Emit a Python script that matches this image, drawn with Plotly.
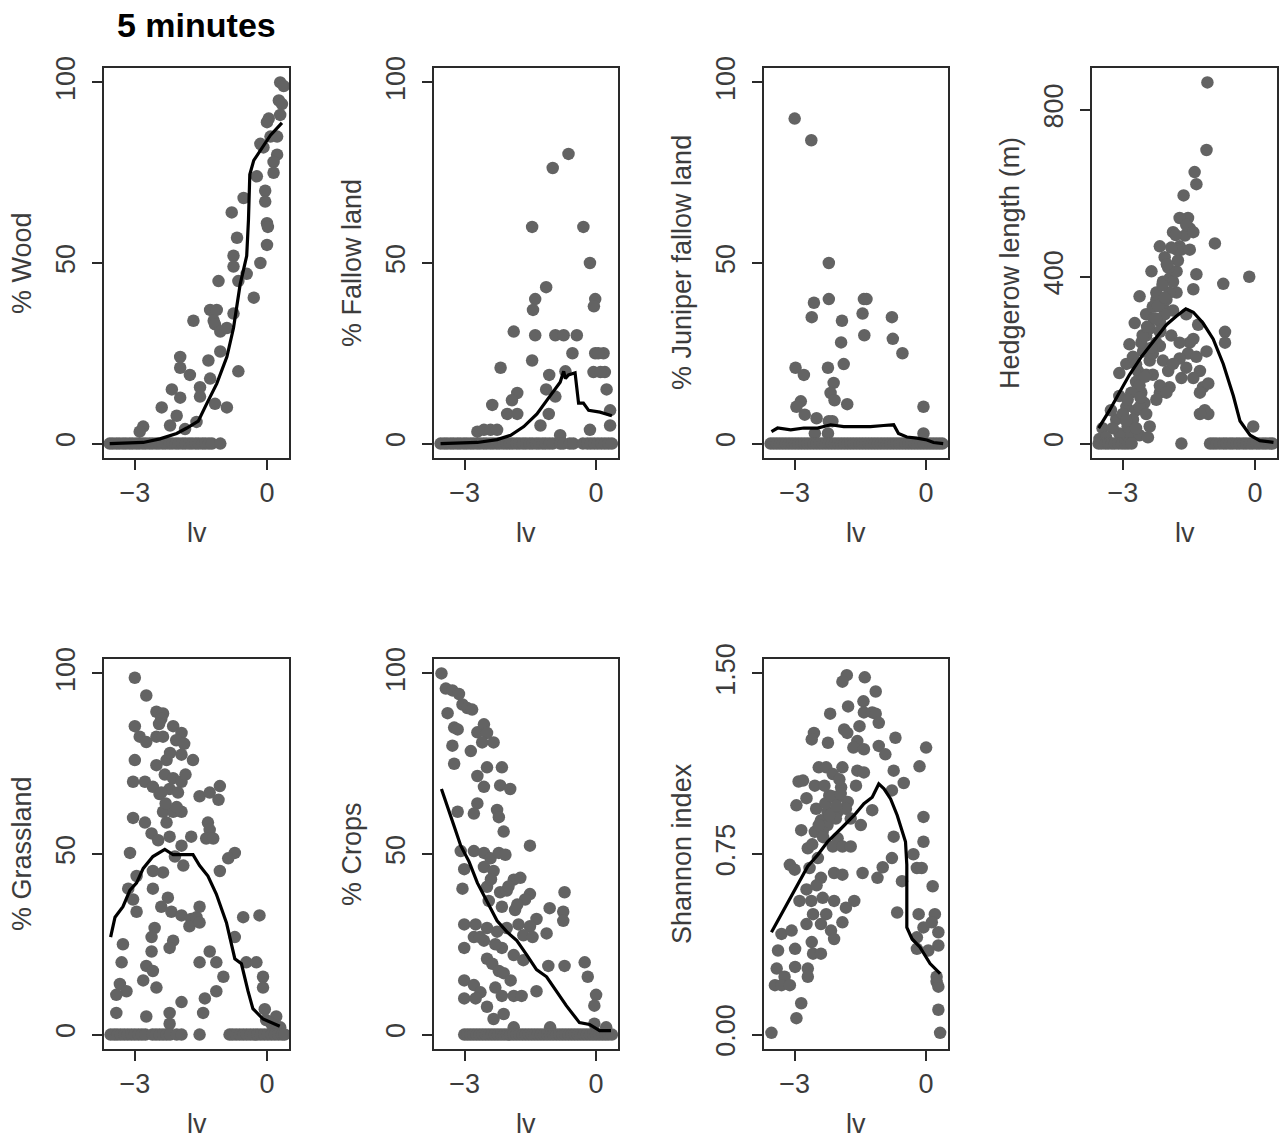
import plotly.graph_objects as go

# ---------------- data ----------------
# Panel 1: % Wood
wood_x = [-2.81, -2.89, 0.30, 0.38, 0.27, 0.34, 0.04, 0.0, 0.30, -0.15, -0.08, 0.08, 0.23, 0.23, 0.15, 0.15,
          -0.23, -0.04, -0.04, -0.53, -0.8, -0.68, 0.0, 0.02, 0.0, -0.76, -0.76, -0.46, -0.15, -1.1, -0.65, -0.3,
          -1.29, -1.14, -1.67, -1.21, -1.18, -1.06, -0.91, -0.76, -1.97, -1.97, -1.33, -1.06, -0.65, -1.75, -1.52,
          -1.29, -2.16, -1.97, -2.39, -2.05, -2.2, -1.18, -0.91, -1.52, -1.6, -1.86]
wood_y = [4.7, 3.3, 100, 99, 95, 94, 90, 89, 91, 83, 82, 85, 85, 80, 78, 75,
          74, 70, 67, 68, 64, 57, 61, 60, 55, 52, 49, 47, 50, 45, 45, 40.4,
          37, 37, 34, 34, 33, 31, 32, 36, 24, 21, 23, 25.5, 20, 19, 15.6,
          18, 15, 12.7, 10, 7.7, 5, 11, 10, 13, 6, 4]
wood_zero_x = [-3.57, -3.5, -3.42, -3.35, -3.27, -3.2, -3.12, -3.05, -2.97, -2.9, -2.82, -2.75, -2.67, -2.6,
               -2.52, -2.45, -2.37, -2.3, -2.22, -2.15, -2.07, -2.0, -1.92, -1.85, -1.77, -1.7, -1.62, -1.55,
               -1.47, -1.4, -1.32, -1.25, -1.06]
wood_line_x = [-3.57, -2.81, -2.43, -2.05, -1.82, -1.56, -1.37, -1.14, -0.91, -0.76, -0.61, -0.46, -0.42,
               -0.39, -0.30, -0.08, 0.08, 0.34]
wood_line_y = [0, 0.3, 1.3, 2.8, 4.3, 6.2, 11, 16.6, 24, 32, 44, 52, 62, 74.5, 78.4, 82.4, 85.4, 88.8]

# Panel 2: % Fallow land
fallow_x = [-0.63, -0.99, -1.46, -0.29, -0.14, -1.14, -1.39, -1.44, -0.02, -0.05, -1.88, -1.39, -0.93, -0.74,
            -0.44, -0.54, -0.02, 0.17, -1.46, -2.18, -0.06, 0.2, -1.07, -0.7, 0.24, -1.8, -1.92, -1.14, -0.93,
            -2.37, -2.03, -1.8, -1.08, 0.32, 0.32, -1.27, -0.14, -2.71, -2.56, -2.41, -2.26, -0.82, 0.1, 0.05]
fallow_y = [80.2, 76.3, 60, 60, 50, 43.3, 40, 37, 40, 38, 31, 30, 30, 30,
            30, 25, 25, 25, 23, 21, 19.8, 19.8, 19, 20, 15, 14, 12, 15, 13,
            10.7, 8.2, 8.2, 8.2, 9.2, 5, 5, 3.8, 3.3, 3.8, 3.8, 3.8, 2.3, 19.8, 25]
fallow_zero_x = [-3.55, -3.47, -3.4, -3.32, -3.25, -3.17, -3.1, -3.02, -2.95, -2.87, -2.8, -2.72, -2.65,
                 -2.57, -2.5, -2.42, -2.35, -2.27, -2.2, -2.12, -2.05, -1.97, -1.9, -1.82, -1.75, -1.67, -1.6,
                 -1.52, -1.45, -1.37, -1.3, -1.22, -1.15, -1.07, -0.99, -0.82, -0.75, -0.6, -0.52, -0.3, -0.2,
                 -0.12, -0.04, 0.04, 0.12, 0.2, 0.28, 0.36]
fallow_line_x = [-3.55, -2.71, -2.26, -1.95, -1.65, -1.35, -1.05, -0.82, -0.74, -0.7, -0.63, -0.48, -0.4,
                 -0.29, -0.17, 0.09, 0.36]
fallow_line_y = [0, 0.3, 1.1, 2.3, 4.7, 8.2, 13.2, 17, 20, 18, 19, 19.6, 11.2, 11.2, 9.2, 8.7, 7.7]

# Panel 3: % Juniper fallow land
juniper_x = [-3.0, -2.62, -2.22, -2.22, -2.56, -2.61, -1.42, -1.36, -1.45, -0.78, -1.92, -1.41, -0.76, -0.54,
             -1.94, -1.88, -2.98, -2.79, -2.24, -2.11, -2.18, -2.09, -1.8, -2.86, -2.96, -2.77, -2.5, -2.22,
             -2.14, -2.54, -2.24, -0.06, -0.06]
juniper_y = [90, 84, 50, 40, 39, 35, 40, 40, 36, 35, 34, 30, 29, 25,
             28, 22, 21, 19, 21, 16.8, 14, 12, 10.9, 11.7, 10.2, 8, 7, 6.2,
             6.2, 2.8, 2.8, 10.2, 2.8]
juniper_zero_x = [-3.55, -3.48, -3.41, -3.34, -3.27, -3.2, -3.13, -3.06, -2.99, -2.92, -2.85, -2.78, -2.71,
                  -2.64, -2.57, -2.5, -2.43, -2.36, -2.29, -2.22, -2.15, -2.08, -2.01, -1.94, -1.87, -1.8,
                  -1.73, -1.66, -1.59, -1.52, -1.45, -1.38, -1.31, -1.24, -1.17, -1.1, -1.03, -0.96, -0.89,
                  -0.82, -0.75, -0.68, -0.61, -0.54, -0.47, -0.4, -0.33, -0.26, -0.19, -0.12, -0.05, 0.02,
                  0.09, 0.16, 0.23, 0.3, 0.37]
juniper_line_x = [-3.53, -3.39, -3.09, -2.79, -2.48, -2.18, -1.88, -1.58, -1.27, -0.97, -0.74, -0.63, -0.44,
                  -0.21, 0.02, 0.17, 0.39]
juniper_line_y = [3.3, 4.3, 3.8, 4.3, 4.3, 5.2, 4.7, 4.7, 4.7, 5.0, 5.2, 2.8, 1.8, 1.5, 1.0, 0.3, 0]

# Panel 4: Hedgerow length (m)
hedge_x = [-1.08, -1.1, -1.37, -1.33, -1.62, -1.52, -1.48, -0.91, -1.33, -0.13, -0.72, -1.71, -1.86, -2.16,
           -2.05, -1.71, -2.35, -1.94, -2.62, -2.24, -2.47, -2.09, -1.78, -2.73, -2.39, -2.16, -1.86, -1.56,
           -1.29, -0.68, -0.68, -1.9, -1.48, -2.85, -2.54, -2.16, -1.1, -1.52, -1.71, -2.92, -2.66, -2.32,
           -1.97, -1.67, -1.25, -3.08, -1.18, -1.06, -2.16, -1.94, -2.51, -3.08, -2.92, -2.7, -2.77, -2.39,
           -3.15, -3.27, -1.14, -1.06, -1.25, -0.04, -3.53, -3.46, -2.85, -3.08, -2.62, -2.89,
           -2.77, -2.7, -2.58, -2.47, -2.39, -2.32, -2.24, -2.16, -2.05, -2.01, -1.94, -1.86, -1.78, -1.75,
           -1.67, -1.59, -1.56, -1.78, -1.97, -2.09, -2.24, -2.32, -2.47, -2.58, -2.62, -2.81, -2.89, -2.62,
           -2.47, -3.0, -2.92, -3.23, -3.38, -2.7, -2.43, -2.09, -1.86, -1.71, -1.4, -1.33, -1.56, -1.4,
           -1.25, -2.16, -2.01, -2.24, -1.4, -1.48, -1.4, -2.3, -2.2, -2.1, -2.0, -1.9, -1.8, -2.55, -2.45,
           -2.35, -2.25, -2.15, -2.05, -2.7, -2.6, -2.5]
hedge_y = [866, 704, 651, 622, 595, 541, 516, 480, 406, 400, 383, 541, 507, 473,
           447, 473, 413, 396, 353, 345, 310, 328, 362, 289, 276, 293, 319, 310,
           285, 268, 242, 259, 242, 238, 221, 234, 221, 216, 204, 191, 174, 165,
           174, 157, 174, 169, 135, 144, 122, 135, 97, 114, 88, 80, 58, 41,
           58, 80, 80, 71, 71, 41, 11, 37, 20, 24, 20, 41,
           208, 148, 122, 165, 199, 216, 242, 268, 310, 345, 362, 388, 413, 439,
           465, 499, 524, 465, 422, 388, 362, 328, 259, 242, 139, 122, 105, 88,
           71, 71, 54, 37, 15, 37, 15, 199, 191, 242, 251, 208, 182, 157,
           122, 139, 122, 105, 507, 465, 370, 300, 330, 380, 430, 470, 500, 260, 280,
           230, 300, 270, 350, 190, 110, 160]
hedge_zero_x = [-3.55, -3.48, -3.4, -3.33, -3.25, -3.18, -3.1, -3.02, -2.95, -2.88, -2.8, -1.67, -1.02, -0.95,
                -0.88, -0.8, -0.72, -0.65, -0.57, -0.5, -0.42, -0.35, -0.27, -0.2, -0.12, -0.05, 0.03, 0.1,
                0.18, 0.25, 0.33, 0.4]
hedge_line_x = [-3.55, -3.3, -3.08, -2.85, -2.58, -2.32, -2.01, -1.78, -1.57, -1.4, -1.18, -0.95, -0.72,
                -0.49, -0.34, -0.11, 0.11, 0.42]
hedge_line_y = [37, 80, 122, 165, 208, 242, 285, 306, 323, 315, 289, 251, 191, 114, 54, 20, 7, 3]

# Panel 5: % Grassland
grass_x = [-3.0, -2.74, -2.51, -2.36, -2.4, -2.13, -1.94, -3.0, -2.89, -2.74, -2.51, -2.36, -2.06, -1.88,
           -1.94, -3.0, -2.51, -2.28, -1.68, -3.04, -2.77, -2.32, -2.13, -1.94, -2.59, -2.44, -2.21, -2.02,
           -1.53, -1.3, -1.07, -1.1, -3.04, -2.77, -2.36, -2.13, -1.94, -2.28, -1.34, -1.3, -2.62, -2.47,
           -2.21, -1.72, -1.38, -1.22, -1.94, -3.11, -2.09, -1.9, -0.73, -0.88, -2.96, -2.59, -2.36, -1.07,
           -3.15, -2.59, -2.25, -3.04, -2.96, -2.4, -2.17, -1.94, -1.72, -1.76, -1.6, -1.53, -1.53, -0.54,
           -0.17, -2.55, -2.62, -2.13, -2.21, -0.73, -3.27, -2.62, -1.3, -3.3, -1.53, -1.15, -0.47, -0.24,
           -2.74, -2.59, -2.81, -0.99, -0.09, -3.34, -3.19, -2.51, -1.15, -1.41, -3.42, -1.94, -0.09, -3.42,
           -2.74, -2.21, -1.45, -2.21, -0.05, 0.21, 0.1, 0.3, -0.02, -2.45, -2.2, -2.3, -2.05, -1.85, -2.4]
grass_y = [98.8, 93.9, 89.4, 88.9, 87.4, 85.4, 83.5, 85.4, 82.5, 81, 82.5, 82.5, 81.5, 80.5,
           77.5, 76, 74.6, 76, 76, 70, 70, 72, 71, 70, 68.6, 66.6, 68, 67,
           66, 67, 68.8, 65, 60, 58.7, 61.7, 61.7, 61.7, 58.7, 58.7, 56.7, 55.7, 53.8,
           54.8, 54.8, 54.3, 54.3, 52.3, 50.3, 49.3, 46.8, 50.3, 48.8, 43.9, 45.3, 44.9, 45.3,
           40.4, 40.4, 37.9, 37.4, 34, 35.4, 34, 33, 32, 30, 32.5, 35.4, 31, 32.5,
           33, 29.5, 27, 26, 24, 27, 25, 23, 23, 20, 20, 20, 20, 20,
           19, 17.6, 15, 16, 16, 14, 12, 13, 12, 10, 11, 9, 13, 6,
           5, 6, 6, 3, 7, 5, 3, 2, 4, 86, 78, 64, 63, 72, 67]
grass_zero_x = [-3.55, -3.47, -3.4, -3.32, -3.24, -3.16, -3.08, -3.0, -2.92, -2.84, -2.76, -2.6, -2.52,
                -2.44, -2.36, -2.28, -2.2, -2.05, -1.94, -1.53, -0.85, -0.78, -0.7, -0.62, -0.54, -0.46,
                -0.38, -0.3, -0.22, -0.14, -0.06, 0.02, 0.1, 0.18, 0.26, 0.34, 0.4]
grass_line_x = [-3.55, -3.45, -3.27, -3.11, -2.96, -2.81, -2.59, -2.32, -2.13, -1.9, -1.68, -1.53, -1.34,
                -1.15, -0.92, -0.73, -0.58, -0.43, -0.32, -0.09, 0.29]
grass_line_y = [27, 32.5, 35.4, 40, 42, 46, 49.3, 51.3, 49.8, 49.8, 49.8, 46.8, 43.9, 38.9, 31, 21, 19.6,
                12, 7.2, 4.3, 2.3]

# Panel 6: % Crops
crops_x = [-3.53, -3.43, -3.28, -3.13, -3.39, -3.05, -2.94, -2.83, -3.24, -3.16, -2.71, -2.56, -2.49, -2.6,
           -2.34, -3.28, -2.86, -3.24, -2.49, -2.15, -2.71, -2.56, -2.19, -1.96, -2.71, -3.16, -2.79, -2.26,
           -2.22, -2.11, -1.51, -3.09, -2.79, -2.56, -2.41, -2.22, -2.07, -3.01, -2.56, -2.34, -1.88, -1.73,
           -3.05, -2.49, -2.19, -2.04, -1.51, -0.72, -2.45, -2.15, -1.85, -1.62, -1.06, -0.75, -0.75, -1.36,
           -1.77, -1.51, -3.01, -2.75, -2.49, -2.26, -2.04, -1.66, -1.13, -2.79, -2.56, -3.01, -2.15, -1.88,
           -1.66, -2.49, -2.37, -2.22, -2.11, -1.09, -0.72, -0.26, -0.19, -3.01, -2.79, -2.64, -2.3, -2.15,
           -1.88, -1.7, -1.36, -3.01, -2.75, -2.49, -2.11, -2.34, 0.0, -0.04, -0.04, 0.23, -1.05, -1.88,
           -2.4, -2.0, -1.8, -2.65, -2.3, -1.95, -1.45]
crops_y = [100, 95.8, 95.3, 94.3, 89, 91.4, 90.4, 90, 85, 84.5, 83.7, 85.9, 83.5, 80.9,
           80.9, 80, 78.5, 75, 74, 74, 71.6, 68.6, 69, 68, 64, 61.7, 61.2, 62.2,
           60.2, 56.2, 52.3, 50.8, 50.8, 50.3, 48.8, 50.3, 49.8, 45.8, 46.4, 45.3, 42.9, 43.4,
           40.4, 40.9, 39.4, 39.9, 38.9, 39.4, 37, 35.4, 34.5, 37.4, 35, 34, 31.5, 32,
           30.5, 30, 30.5, 30.5, 29.5, 28.5, 29.5, 27.5, 28, 27, 26, 24, 24, 22,
           20.6, 21, 19.6, 17.6, 17, 19, 19, 20, 16, 15, 13.7, 11.7, 13, 10.7,
           10.7, 10.7, 12, 10, 10, 7.7, 5.7, 4.3, 11, 8, 3, 2, 2, 2,
           43, 41, 36, 27, 25, 15, 27]
crops_zero_x = [-3.01, -2.94, -2.87, -2.8, -2.73, -2.66, -2.59, -2.52, -2.45, -2.38, -2.31, -2.24, -2.17, -2.1,
                -2.03, -1.96, -1.89, -1.82, -1.75, -1.68, -1.61, -1.54, -1.47, -1.4, -1.33, -1.26, -1.19,
                -1.12, -1.05, -0.98, -0.91, -0.84, -0.77, -0.7, -0.63, -0.56, -0.49, -0.42, -0.35, -0.28,
                -0.21, -0.14, -0.07, 0.0, 0.07, 0.14, 0.21, 0.28, 0.36]
crops_line_x = [-3.53, -3.39, -3.24, -3.09, -2.9, -2.71, -2.49, -2.26, -2.04, -1.81, -1.58, -1.36, -1.13,
                -0.9, -0.68, -0.38, -0.15, 0.08, 0.34]
crops_line_y = [68, 62.7, 57.7, 52.3, 47.9, 42, 37, 31.5, 28.5, 26, 22, 18, 16, 12, 8, 3.3, 2.8, 1.1, 1.1]

# Panel 7: Shannon index
shannon_x = [-1.81, -1.91, -1.40, -1.15, -1.78, -1.43, -1.42, -1.23, -1.15, -2.19, -1.52, -1.87, -1.08,
             -2.56, -2.61, -2.24, -1.8, -0.7, 0.0, -1.57, -1.66, -1.42, -1.08, -0.93, -0.15, -2.45, -2.28,
             -1.91, -2.13, -1.57, -1.42, -0.74, -0.51, -2.91, -2.81, -2.54, -2.32, -1.94, -1.6, -0.78, -2.21,
             -2.02, -1.79, -1.23, -2.96, -2.73, -2.51, -2.25, -2.02, -1.83, -0.06, -2.4, -2.25, -2.06, -1.72,
             -1.49, -2.54, -2.85, -2.36, -2.02, -0.74, -0.06, -2.7, -2.13, -1.91, -1.72, -2.47, -0.78, -0.29,
             -3.11, -3.0, -2.66, -2.4, -2.1, -1.91, -1.45, -0.99, -1.11, -0.55, -0.21, -0.1, 0.15, -2.73,
             -2.89, -2.62, -2.36, -2.1, -1.64, -1.83, -0.66, -0.17, 0.2, -0.06, 0.13, -2.58, -2.28, -1.91,
             -3.3, -3.07, -2.73, -2.4, -2.17, -2.1, -0.21, 0.28, 0.28, -0.21, 0.05, -3.38, -2.99, -2.61,
             -2.58, -2.4, -3.41, -2.99, -2.7, -2.7, -3.23, -3.45, -3.3, -3.11, 0.24, 0.28, 0.24, -2.85,
             -2.96, 0.28, -3.53, 0.32, -2.3, -2.15, -1.98, -2.45, -2.2, -2.05, -1.95, -2.35, -2.6, -2.5]
shannon_y = [1.493, 1.466, 1.484, 1.425, 1.363, 1.384, 1.338, 1.338, 1.333, 1.333, 1.281, 1.267, 1.295,
             1.253, 1.226, 1.212, 1.253, 1.233, 1.192, 1.219, 1.192, 1.185, 1.199, 1.164, 1.114, 1.110, 1.110,
             1.110, 1.082, 1.096, 1.089, 1.096, 1.045, 1.051, 1.055, 1.034, 1.034, 1.027, 1.034, 1.014, 0.993,
             0.986, 0.966, 0.932, 0.952, 0.982, 0.938, 0.925, 0.925, 0.938, 0.904, 0.890, 0.870, 0.897, 0.897,
             0.870, 0.842, 0.849, 0.842, 0.815, 0.822, 0.801, 0.774, 0.781, 0.781, 0.781, 0.733, 0.733, 0.749,
             0.705, 0.685, 0.692, 0.651, 0.671, 0.664, 0.671, 0.695, 0.651, 0.637, 0.692, 0.692, 0.616, 0.603,
             0.555, 0.555, 0.568, 0.555, 0.555, 0.527, 0.507, 0.5, 0.5, 0.445, 0.466, 0.5, 0.5, 0.466,
             0.418, 0.432, 0.459, 0.459, 0.432, 0.397, 0.404, 0.425, 0.37, 0.356, 0.349, 0.349, 0.356, 0.384,
             0.336, 0.336, 0.274, 0.281, 0.274, 0.24, 0.24, 0.205, 0.205, 0.205, 0.219, 0.199, 0.24, 0.13,
             0.068, 0.103, 0.007, 0.007, 0.96, 0.99, 1.06, 0.87, 0.91, 0.95, 1.0, 0.82, 0.79, 0.62]
shannon_line_x = [-3.53, -3.3, -3.07, -2.85, -2.7, -2.47, -2.25, -1.94, -1.64, -1.42, -1.23, -1.08, -0.96,
                  -0.81, -0.66, -0.47, -0.44, -0.44, -0.32, -0.14, 0.09, 0.32]
shannon_line_y = [0.425, 0.5, 0.575, 0.651, 0.699, 0.747, 0.801, 0.856, 0.911, 0.959, 0.986, 1.041, 1.021,
                  0.979, 0.911, 0.801, 0.705, 0.445, 0.397, 0.363, 0.295, 0.253]

y_titles = ["% Wood", "% Fallow land", "% Juniper fallow land", "Hedgerow length (m)",
            "% Grassland", "% Crops", "Shannon index"]
x_title = "lv"
main_title = "5 minutes"
x_tickvals = [-3, 0]
x_ticktext = ["\u22123", "0"]
pct_tickvals = [0, 50, 100]
hedge_tickvals = [0, 400, 800]
shannon_tickvals = [0, 0.75, 1.5]
shannon_ticktext = ["0.00", "0.75", "1.50"]

# ---------------- layout ----------------
W, H = 1281, 1144
FONT = "Liberation Sans, Arial, Helvetica, sans-serif"
PT_COLOR = "#636363"
TXT = "#3c3c3c"

panels = [
    (wood_x, wood_y, wood_zero_x, wood_line_x, wood_line_y, pct_tickvals, None, [-4, 104]),
    (fallow_x, fallow_y, fallow_zero_x, fallow_line_x, fallow_line_y, pct_tickvals, None, [-4, 104]),
    (juniper_x, juniper_y, juniper_zero_x, juniper_line_x, juniper_line_y, pct_tickvals, None, [-4, 104]),
    (hedge_x, hedge_y, hedge_zero_x, hedge_line_x, hedge_line_y, hedge_tickvals, None, [-34.6, 900.6]),
    (grass_x, grass_y, grass_zero_x, grass_line_x, grass_line_y, pct_tickvals, None, [-4, 104]),
    (crops_x, crops_y, crops_zero_x, crops_line_x, crops_line_y, pct_tickvals, None, [-4, 104]),
    (shannon_x, shannon_y, [], shannon_line_x, shannon_line_y, shannon_tickvals, shannon_ticktext, [-0.06, 1.56]),
]

col_px = [(104, 289), (434, 618), (764, 948), (1092, 1277)]
row_px = [(68, 458), (659, 1049)]

fig = go.Figure()
annotations = []
for i, (px, py, zx, lx, ly, ytv, ytt, yr) in enumerate(panels):
    r, c = divmod(i, 4)
    n = i + 1
    xa = "x" if n == 1 else f"x{n}"
    ya = "y" if n == 1 else f"y{n}"
    allx = list(px) + list(zx)
    ally = list(py) + [0] * len(zx)
    fig.add_trace(go.Scatter(x=allx, y=ally, mode="markers", xaxis=xa, yaxis=ya,
                             marker=dict(color=PT_COLOR, size=12.5, line=dict(width=0)),
                             showlegend=False, hoverinfo="skip"))
    fig.add_trace(go.Scatter(x=lx, y=ly, mode="lines", xaxis=xa, yaxis=ya,
                             line=dict(color="black", width=3.2),
                             showlegend=False, hoverinfo="skip"))
    l, rr = col_px[c]
    t, b = row_px[r]
    common = dict(showline=True, mirror=True, linecolor="#2a2a2a", linewidth=2,
                  ticks="outside", ticklen=10, tickwidth=1.5, tickcolor="#2a2a2a",
                  showgrid=False, zeroline=False, automargin=False,
                  tickfont=dict(family=FONT, size=27, color=TXT))
    fig.layout[f"xaxis{'' if n == 1 else n}"] = dict(
        domain=[l / W, rr / W], range=[-3.70, 0.50], anchor=ya,
        tickmode="array", tickvals=x_tickvals, ticktext=x_ticktext, ticklabelstandoff=0, **common)
    yax = dict(domain=[1 - b / H, 1 - t / H], range=yr, anchor=xa,
               tickmode="array", tickvals=ytv, tickangle=-90, ticklabelstandoff=6, **common)
    if ytt is not None:
        yax["ticktext"] = ytt
    fig.layout[f"yaxis{'' if n == 1 else n}"] = yax
    # axis titles
    annotations.append(dict(text=x_title, xref="paper", yref="paper",
                            x=(l + rr) / 2 / W, y=1 - (b + 75) / H,
                            xanchor="center", yanchor="middle", showarrow=False,
                            font=dict(family=FONT, size=27, color=TXT)))
    annotations.append(dict(text=y_titles[i], xref="paper", yref="paper",
                            x=(l - 82) / W, y=1 - (t + b) / 2 / H, textangle=-90,
                            xanchor="center", yanchor="middle", showarrow=False,
                            font=dict(family=FONT, size=27, color=TXT)))

annotations.append(dict(text="<b>" + main_title + "</b>", xref="paper", yref="paper",
                        x=(104 + 289) / 2 / W, y=1 - 25 / H, xanchor="center", yanchor="middle",
                        showarrow=False, font=dict(family=FONT, size=34, color="black")))

fig.update_layout(width=W, height=H, margin=dict(l=0, r=0, t=0, b=0, autoexpand=False),
                  paper_bgcolor="white", plot_bgcolor="white",
                  annotations=annotations, showlegend=False)

fig.write_html("out.html", config={"displayModeBar": False},
               post_script="document.body.style.margin='0';document.body.style.overflow='hidden';")
